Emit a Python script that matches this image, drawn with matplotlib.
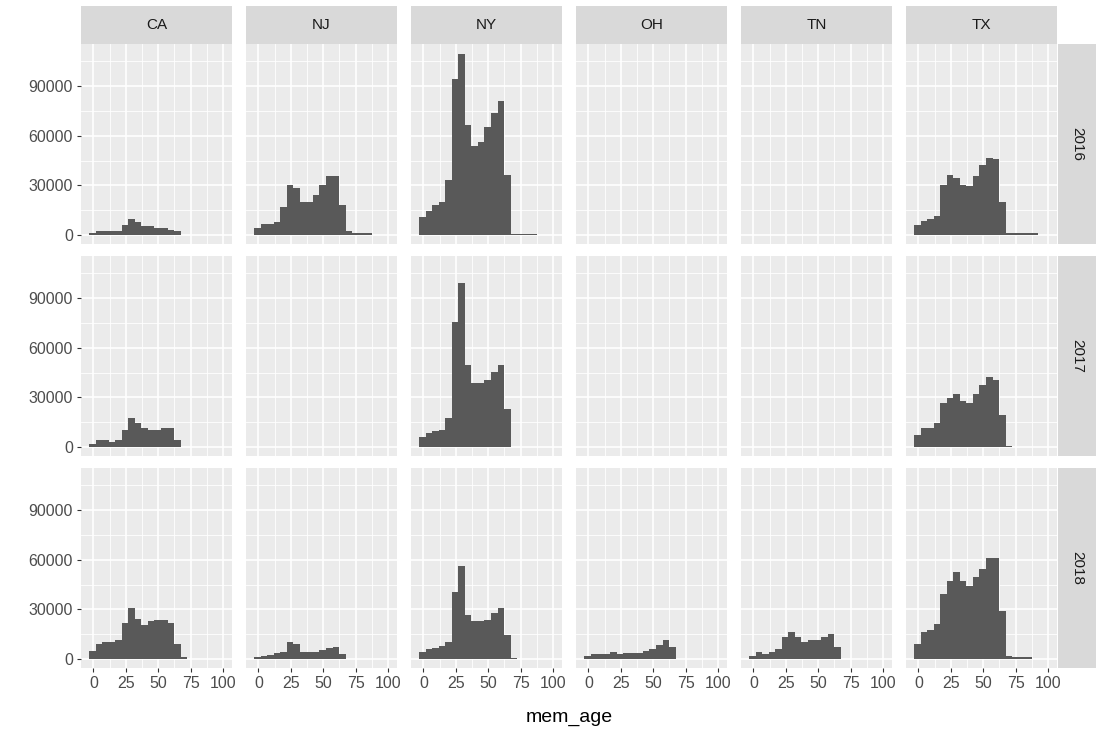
import numpy as np
import matplotlib.pyplot as plt

plt.rcParams['font.family'] = ['Liberation Sans', 'DejaVu Sans']

# histogram counts per bin (bins start at -3, width ~5)
states = ["CA", "NJ", "NY", "OH", "TN", "TX"]
years = ["2016", "2017", "2018"]

ca_2016 = [1400, 2400, 2400, 2400, 2400, 6200, 9400, 7600, 5400, 5400, 4200, 4200, 3200, 2200]
nj_2016 = [4200, 6800, 6800, 7600, 16600, 30400, 28200, 19800, 19800, 24200, 30400, 35400, 35400, 17800,
           2400, 1200, 1200, 1200]
ny_2016 = [10800, 14600, 17800, 19800, 33200, 94400, 109500, 66400, 53800, 56200, 65400, 73800, 80800, 36400,
           800, 800, 800, 800]
oh_2016 = []
tn_2016 = []
tx_2016 = [6200, 8400, 9600, 11600, 30200, 36400, 34200, 30400, 29400, 35400, 42400, 46800, 45800, 19800,
           1200, 1200, 1200, 1200, 1200]

ca_2017 = [1800, 4200, 4200, 3200, 4200, 10200, 17600, 14200, 11400, 10200, 10200, 11200, 11200, 4200]
nj_2017 = []
ny_2017 = [5800, 8200, 9600, 10400, 17400, 75600, 99400, 49800, 38400, 38400, 40200, 45400, 49600, 22800]
oh_2017 = []
tn_2017 = []
tx_2017 = [7200, 11200, 11200, 14400, 26800, 29800, 31800, 27800, 26800, 31800, 37200, 42400, 40200, 19400, 800]

ca_2018 = [4800, 9000, 10000, 10400, 11600, 21600, 30800, 24400, 20600, 23000, 23600, 23600, 21600, 9000, 1000]
nj_2018 = [1000, 1600, 2200, 3400, 4400, 10400, 9200, 4000, 4000, 4000, 5200, 6400, 7400, 3200]
ny_2018 = [4000, 6200, 6800, 7600, 10400, 40400, 56000, 26600, 22800, 22800, 23800, 27800, 31000, 14200, 600]
oh_2018 = [1800, 2800, 2800, 2800, 4000, 2800, 3800, 3800, 3800, 5000, 6200, 8200, 11600, 7200]
tn_2018 = [1800, 4000, 3200, 4000, 6200, 13200, 16400, 13200, 10400, 11600, 11600, 13200, 15200, 7200]
tx_2018 = [9000, 16000, 17400, 21400, 39000, 47400, 52400, 47400, 44400, 49400, 54400, 60800, 60800, 28800,
           1800, 1000, 1000, 1000]

counts = {
    "2016": [ca_2016, nj_2016, ny_2016, oh_2016, tn_2016, tx_2016],
    "2017": [ca_2017, nj_2017, ny_2017, oh_2017, tn_2017, tx_2017],
    "2018": [ca_2018, nj_2018, ny_2018, oh_2018, tn_2018, tx_2018],
}

x_ticks = [0, 25, 50, 75, 100]
y_ticks = [0, 30000, 60000, 90000]

bin_start = -3.0
bin_w = 5.02

W, H = 1102, 738
fig = plt.figure(figsize=(W / 100, H / 100), dpi=100)


def box(left, top, w, h):
    return [left / W, 1 - (top + h) / H, w / W, h / H]


col_left = [81, 246, 411, 576, 741, 906]
row_top = [44, 256, 468]
pw, ph = 151, 200

for r, yr in enumerate(years):
    for c, st in enumerate(states):
        ax = fig.add_axes(box(col_left[c], row_top[r], pw, ph))
        ax.set_facecolor('#EBEBEB')
        for s in ax.spines.values():
            s.set_visible(False)
        vals = counts[yr][c]
        if len(vals):
            lefts = bin_start + bin_w * np.arange(len(vals))
            ax.bar(lefts, vals, width=bin_w, align='edge', color='#595959', linewidth=0, zorder=3)
        ax.set_xlim(-9.5, 107)
        ax.set_ylim(-5500, 115500)
        ax.set_xticks(x_ticks)
        ax.set_yticks(y_ticks)
        ax.set_xticks([12.5, 37.5, 62.5, 87.5], minor=True)
        ax.set_yticks([15000, 45000, 75000, 105000], minor=True)
        ax.grid(True, which='major', color='white', linewidth=1.2)
        ax.grid(True, which='minor', color='white', linewidth=0.6)
        ax.set_axisbelow(True)
        ax.tick_params(which='minor', length=0)
        ax.tick_params(which='major', length=2.7, width=0.8, color='#333333',
                       labelcolor='#4D4D4D', labelsize=11.5, pad=3)
        if c != 0:
            ax.tick_params(axis='y', length=0, labelleft=False)
        if r != 2:
            ax.tick_params(axis='x', length=0, labelbottom=False)

        if r == 0:
            sax = fig.add_axes(box(col_left[c], 6, pw, 38))
            sax.set_facecolor('#D9D9D9')
            sax.set_xticks([])
            sax.set_yticks([])
            for s in sax.spines.values():
                s.set_visible(False)
            sax.text(0.5, 0.5, st, ha='center', va='center', fontsize=11, color='#1A1A1A',
                     transform=sax.transAxes)
        if c == 5:
            rax = fig.add_axes(box(1058, row_top[r], 38, ph))
            rax.set_facecolor('#D9D9D9')
            rax.set_xticks([])
            rax.set_yticks([])
            for s in rax.spines.values():
                s.set_visible(False)
            rax.text(0.5, 0.5, yr, ha='center', va='center', rotation=-90, fontsize=11,
                     color='#1A1A1A', transform=rax.transAxes)

fig.text((81 + 1057) / 2 / W, 1 - 718 / H, "mem_age", ha='center', va='center', fontsize=14, color='black')

fig.savefig("out.png", dpi=100)
